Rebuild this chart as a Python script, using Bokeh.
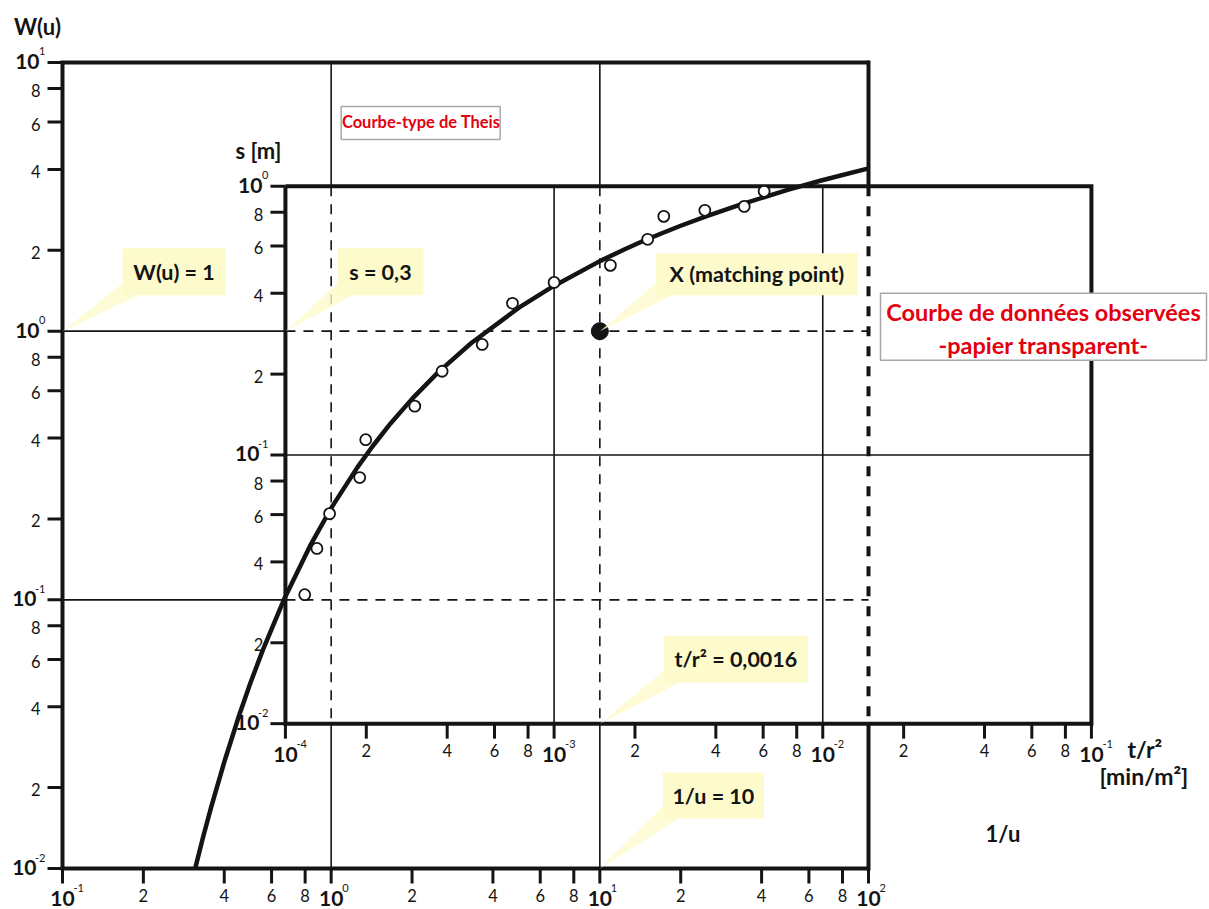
from bokeh.plotting import figure
from bokeh.models import Range1d
from bokeh.core.properties import value
from bokeh.embed import file_html
from bokeh.resources import INLINE

# ------------------------------------------------------------------ data
# Theis type curve: tabulated well function W(u)
theis_u = [3.2, 3.0, 2.8, 2.5, 2.2, 2.0, 1.8, 1.5, 1.2, 1.0, 0.8, 0.7, 0.6, 0.5,
           0.4, 0.3, 0.2, 0.15, 0.1, 0.08, 0.07, 0.06, 0.05, 0.04, 0.03, 0.02,
           0.015, 0.01]
theis_W = [0.0101, 0.01305, 0.01686, 0.02491, 0.03719, 0.0489, 0.0647, 0.1000,
           0.1584, 0.2194, 0.3106, 0.3738, 0.4544, 0.5598, 0.7024, 0.9057,
           1.2227, 1.4645, 1.8229, 2.0269, 2.1508, 2.2953, 2.4679, 2.6813,
           2.9591, 3.3547, 3.6374, 4.0379]

# observed drawdown data (t/r2 in min/m2, s in m)
obs_t = [1.18e-4, 1.31e-4, 1.46e-4, 1.89e-4, 1.99e-4, 3.03e-4, 3.83e-4, 5.4e-4,
         7.0e-4, 1.0e-3, 1.62e-3, 2.23e-3, 2.56e-3, 3.64e-3, 5.1e-3, 6.05e-3]
obs_s = [0.0302, 0.0449, 0.0605, 0.0824, 0.114, 0.152, 0.205, 0.258, 0.367,
         0.439, 0.508, 0.635, 0.773, 0.814, 0.842, 0.958]

# matching point: (1/u, W) on type curve <-> (t/r2, s) on data sheet (as drawn)
match_inv_u, match_W = 10.0, 1.0
match_t, match_s = 0.00148, 0.289
callout_texts = ["W(u) = 1", "s = 0,3", "X (matching point)", "t/r² = 0,0016", "1/u = 10"]

outer_x_ticks = [0.1, 0.2, 0.4, 0.6, 0.8, 1, 2, 4, 6, 8, 10, 20, 40, 60, 80, 100]
outer_x_labels = ["10^-1", "2", "4", "6", "8", "10^0", "2", "4", "6", "8",
                  "10^1", "2", "4", "6", "8", "10^2"]
outer_y_ticks = [0.01, 0.02, 0.04, 0.06, 0.08, 0.1, 0.2, 0.4, 0.6, 0.8, 1, 2, 4, 6, 8, 10]
outer_y_labels = ["10^-2", "2", "4", "6", "8", "10^-1", "2", "4", "6", "8",
                  "10^0", "2", "4", "6", "8", "10^1"]
inner_x_ticks = [1e-4, 2e-4, 4e-4, 6e-4, 8e-4, 1e-3, 2e-3, 4e-3, 6e-3, 8e-3,
                 1e-2, 2e-2, 4e-2, 6e-2, 8e-2, 1e-1]
inner_x_labels = ["10^-4", "2", "4", "6", "8", "10^-3", "2", "4", "6", "8",
                  "10^-2", "2", "4", "6", "8", "10^-1"]
inner_y_ticks = [0.01, 0.02, 0.04, 0.06, 0.08, 0.1, 0.2, 0.4, 0.6, 0.8, 1]
inner_y_labels = ["10^-2", "2", "4", "6", "8", "10^-1", "2", "4", "6", "8", "10^0"]

outer_grid_x = [1, 10]
outer_grid_y = [0.1, 1]
inner_grid_x = [1e-3, 1e-2]
inner_grid_y = [0.1]

title_type = "Courbe-type de Theis"
title_data = ["Courbe de données observées", "-papier transparent-"]

# ------------------------------------------------------------------ layout
FW, FH = 1209, 909
PPD = 268.67                       # pixels per decade (both sheets)
LEFT, TOP, BOTTOM = 62, 62, 41     # canvas margins around the outer sheet
X0, X1, Y0, Y1 = 0.1, 100.0, 0.01, 10.0

KX = match_inv_u / match_t
KY = match_W / match_s
ix0, ix1 = KX * 1e-4, KX * 1e-1
iy0, iy1 = KY * 0.01, KY * 1.0

def sh(v, px):
    """shift a log-scale data value by px screen pixels"""
    return v * 10 ** (px / PPD)

xr = Range1d(sh(X0, -LEFT), sh(X0, FW - LEFT))
yr = Range1d(sh(Y0, -BOTTOM), sh(Y1, TOP))

p = figure(width=FW, height=FH, x_axis_type="log", y_axis_type="log",
           x_range=xr, y_range=yr, x_axis_location=None, y_axis_location=None,
           toolbar_location=None, output_backend="svg", min_border=0,
           outline_line_color=None, background_fill_color="white")
p.grid.visible = False

INK = "#141414"
RED = "#e3000f"
YEL = "#fdfbcc"
FONT = value("Lato")

def put(x, y, s, size, align="center", bold=False, color=INK, baseline="middle"):
    p.text(x=[x], y=[y], text=[s], text_font=FONT, text_font_size=f"{size}px",
           text_font_style="bold" if bold else "normal", text_align=align,
           text_baseline=baseline, text_color=color)

# ---------------- grid lines
thin = 1.6
DASH = "10 8"
for gx in outer_grid_x:
    p.segment(x0=[gx, gx], y0=[Y1, iy0], x1=[gx, gx], y1=[iy1, Y0], line_width=thin, color=INK)
    p.segment(x0=[gx], y0=[iy1], x1=[gx], y1=[iy0], line_width=thin, color=INK, line_dash=DASH)
for gy in outer_grid_y:
    p.segment(x0=[X0], y0=[gy], x1=[ix0], y1=[gy], line_width=thin, color=INK)
    p.segment(x0=[ix0], y0=[gy], x1=[X1], y1=[gy], line_width=thin, color=INK, line_dash=DASH)
for gx in inner_grid_x:
    p.segment(x0=[gx * KX], y0=[iy0], x1=[gx * KX], y1=[iy1], line_width=thin, color=INK)
for gy in inner_grid_y:
    p.segment(x0=[ix0], y0=[gy * KY], x1=[ix1], y1=[gy * KY], line_width=thin, color=INK)

# ---------------- sheets
p.line([X1, X0, X0, X1], [Y1, Y1, Y0, Y0], line_width=4, color=INK, line_join="miter")
p.segment(x0=[X1, X1], y0=[sh(Y1, 2), iy0], x1=[X1, X1], y1=[iy1, sh(Y0, -2)], line_width=4, color=INK)
p.segment(x0=[X1], y0=[iy1], x1=[X1], y1=[iy0], line_width=4, color=INK, line_dash="10 10")
p.line([ix0, ix1, ix1, ix0, ix0], [iy1, iy1, iy0, iy0, iy1], line_width=4, color=INK, line_join="miter")

# ---------------- ticks
TK = 15
p.segment(x0=[sh(X0, -TK)] * len(outer_y_ticks), y0=outer_y_ticks, x1=[X0] * len(outer_y_ticks),
          y1=outer_y_ticks, line_width=3, color=INK)
p.segment(x0=outer_x_ticks, y0=[Y0] * len(outer_x_ticks), x1=outer_x_ticks,
          y1=[sh(Y0, -TK)] * len(outer_x_ticks), line_width=3, color=INK)
iyt = [v * KY for v in inner_y_ticks]
ixt = [v * KX for v in inner_x_ticks]
p.segment(x0=[sh(ix0, -TK)] * len(iyt), y0=iyt, x1=[ix0] * len(iyt), y1=iyt, line_width=3, color=INK)
p.segment(x0=ixt, y0=[iy0] * len(ixt), x1=ixt, y1=[sh(iy0, -TK)] * len(ixt), line_width=3, color=INK)

# ---------------- tick labels
def labels_bottom(ticks, labels, ybase, d_int, d_dec, d_exp):
    for v, lab in zip(ticks, labels):
        if lab.startswith("10^"):
            put(v, sh(ybase, -d_dec), "10", 21, bold=True)
            put(sh(v, 11), sh(ybase, -d_exp), lab[3:], 11, align="left")
        else:
            put(v, sh(ybase, -d_int), lab, 16.5)

def labels_left(ticks, labels, xbase):
    for v, lab in zip(ticks, labels):
        if lab.startswith("10^"):
            e = lab[3:]
            put(sh(xbase, -17), sh(v, 11), e, 11, align="right")
            put(sh(xbase, -17 - (6 if len(e) == 1 else 9)), sh(v, 1), "10", 21, align="right", bold=True)
        else:
            put(sh(xbase, -22), sh(v, -2), lab, 16.5, align="right")

labels_bottom(outer_x_ticks, outer_x_labels, Y0, 27, 30, 19)
labels_left(outer_y_ticks, outer_y_labels, X0)
labels_bottom(ixt, inner_x_labels, iy0, 27, 31, 20)
labels_left(iyt, inner_y_labels, ix0)

# ---------------- axis titles
put(sh(X0, -25), sh(Y1, 36), "W(u)", 22, bold=True)
put(sh(ix0, -27), sh(iy1, 36), "s [m]", 22, bold=True)
put(sh(ix1, 36), sh(iy0, -25), "t/r²", 23, bold=True, align="left")
put(sh(ix1, 8), sh(iy0, -52), "[min/m²]", 23, bold=True, align="left")
put(sh(X1, 117), sh(Y0, 35), "1/u", 22, bold=True, align="left")

# ---------------- curves and points
p.line([1.0 / u for u in theis_u], theis_W, line_width=4.5, color=INK, line_join="round")
p.scatter([t * KX for t in obs_t], [s * KY for s in obs_s], size=11,
          fill_color="white", line_color=INK, line_width=1.8)
p.scatter([match_inv_u], [match_W], size=17, color=INK)

# ---------------- callouts
def callout(ax, ay, dx, dy, w, h, label):
    l, r = sh(ax, dx), sh(ax, dx + w)
    b, t = sh(ay, dy), sh(ay, dy + h)
    p.patch([ax, l, sh(ax, dx + 16)], [ay, sh(ay, dy + 12), b],
            fill_color=YEL, fill_alpha=0.8, line_color=None)
    p.quad(left=[l], right=[r], bottom=[b], top=[t], fill_color=YEL, line_color=None)
    put(sh(ax, dx + w / 2), sh(ay, dy + h / 2), label, 21.5, bold=True)

callout(X0, match_W, 60, 36, 103, 47, callout_texts[0])
callout(ix0, match_W, 52, 36, 86, 47, callout_texts[1])
callout(match_inv_u, match_W, 56, 36, 202, 42, callout_texts[2])
callout(match_inv_u, iy0, 64, 41, 144, 47, callout_texts[3])
callout(match_inv_u, Y0, 63, 50, 101, 46, callout_texts[4])

# ---------------- title boxes
p.quad(left=[sh(1, 10)], right=[sh(1, 169)], top=[sh(Y1, -44)], bottom=[sh(Y1, -77)],
       fill_color="white", line_color="#a8a8a8", line_width=1.5)
put(sh(1, 90), sh(Y1, -60), title_type, 16.5, bold=True, color=RED)

p.quad(left=[sh(X1, 12)], right=[sh(X1, 338)], top=[sh(1, 38)], bottom=[sh(1, -29)],
       fill_color="white", line_color="#a8a8a8", line_width=1.5)
put(sh(X1, 175), sh(1, 19), title_data[0], 23.5, bold=True, color=RED)
put(sh(X1, 175), sh(1, -14), title_data[1], 23.5, bold=True, color=RED)

open("out.html", "w", encoding="utf-8").write(file_html(p, INLINE))
